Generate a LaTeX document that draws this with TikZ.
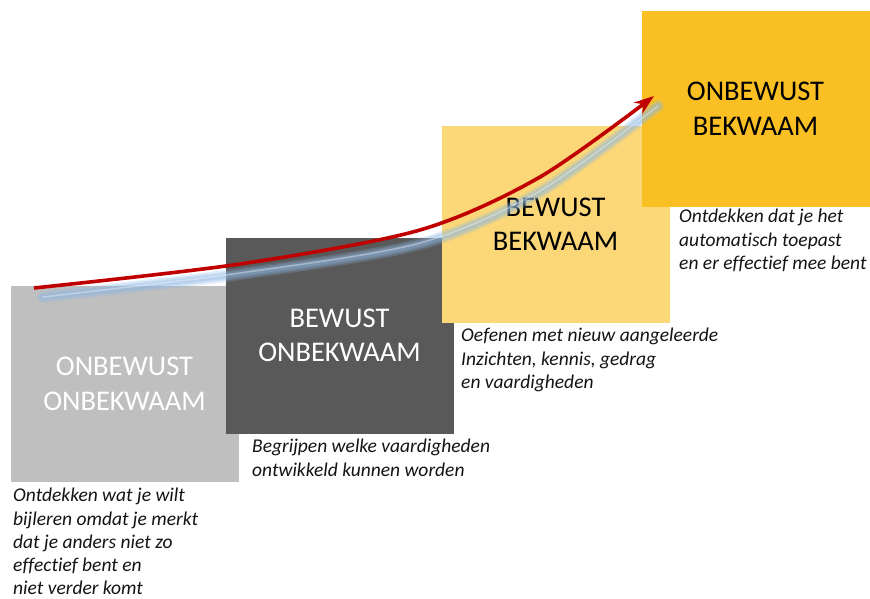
\documentclass[tikz,border=0pt]{standalone}
\usepackage{fontspec}
\setmainfont[Ligatures=NoCommon]{Carlito}
\usetikzlibrary{arrows.meta}
\definecolor{boxA}{HTML}{BFBFBF}
\definecolor{boxB}{HTML}{595959}
\definecolor{boxC}{HTML}{FBD777}
\definecolor{boxD}{HTML}{FAC023}
\definecolor{arrowred}{HTML}{C00000}
\definecolor{glowB}{HTML}{8DB8E4}
\definecolor{captext}{HTML}{141414}
\begin{document}
\begin{tikzpicture}[x=1pt,y=-1pt,
  stage/.style={inner sep=0pt, minimum width=228pt, minimum height=196pt, align=center,
    font=\fontsize{28.5}{34.5}\selectfont},
  caption/.style={inner sep=0pt, anchor=north west, align=left, text=captext,
    font=\fontsize{19.5}{23.3}\selectfont\itshape},
  glowlayer/.style={line width=#1, draw=glowB, opacity=0.22, line cap=round},
  glowcore/.style={line width=1.5pt, draw=white, opacity=0.35, line cap=round},
  redline/.style={line width=3.6pt, draw=arrowred, -{Stealth[length=20pt,width=14pt]}}]
\useasboundingbox (0,0) rectangle (870,599);
\fill[white] (0,0) rectangle (870,599);

\node[stage, fill=boxA, text=white] (s1) at (124.5,384) {ONBEWUST\\ONBEKWAAM};
\node[stage, fill=boxB, text=white] (s2) at (339.5,335.5) {BEWUST\\ONBEKWAAM};
\node[stage, fill=boxC, text=black] (s3) at (555.5,224.5) {BEWUST\\BEKWAAM};
\node[stage, fill=boxD, text=black] (s4) at (755.5,109) {ONBEWUST\\BEKWAAM};

\node[caption] (c1) at (13,488) {Ontdekken wat je wilt\\bijleren omdat je merkt\\dat je anders niet zo\\effectief bent en\\niet verder komt};
\node[caption] (c2) at (252,439) {Begrijpen welke vaardigheden\\ontwikkeld kunnen worden};
\node[caption] (c3) at (461,328) {Oefenen met nieuw aangeleerde\\Inzichten, kennis, gedrag\\en vaardigheden};
\node[caption] (c4) at (679,209) {Ontdekken dat je het\\automatisch toepast\\en er effectief mee bent};

\coordinate (gs) at (43,297);
\coordinate (ge) at (658,106);
\coordinate (rs) at (34,288);
\coordinate (re) at (654,96);

\foreach \w in {12pt,9pt,6.5pt,4pt}
  \draw[glowlayer=\w] plot[smooth] coordinates {(gs) (240,274) (420,244) (540,192) (ge)};
\draw[glowcore] plot[smooth] coordinates {(gs) (240,273) (420,243) (540,191) (ge)};

\draw[redline] plot[smooth] coordinates {(rs) (240,264) (420,230) (540,177) (re)};
\end{tikzpicture}
\end{document}
